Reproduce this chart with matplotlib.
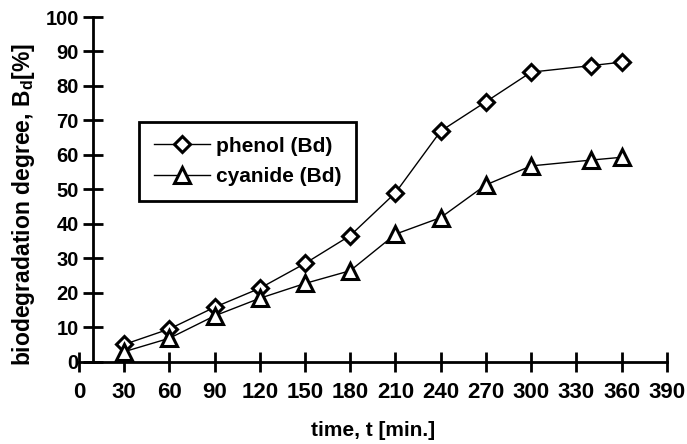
import matplotlib
matplotlib.use("Agg")
import matplotlib.pyplot as plt

plt.rcParams['font.family'] = ['Liberation Sans', 'DejaVu Sans']
plt.rcParams['font.weight'] = 'bold'
plt.rcParams['mathtext.fontset'] = 'custom'
plt.rcParams['mathtext.bf'] = 'Liberation Sans:bold'
plt.rcParams['mathtext.rm'] = 'Liberation Sans:bold'

time_min = [30, 60, 90, 120, 150, 180, 210, 240, 270, 300, 340, 360]
phenol_bd = [5.0, 9.5, 15.8, 21.3, 28.5, 36.6, 49.0, 66.9, 75.4, 84.0, 85.9, 86.9]
cyanide_bd = [2.9, 6.8, 13.3, 18.4, 22.7, 26.4, 37.0, 41.8, 51.3, 56.8, 58.5, 59.3]
x_ticks = [0, 30, 60, 90, 120, 150, 180, 210, 240, 270, 300, 330, 360, 390]
y_ticks = [0, 10, 20, 30, 40, 50, 60, 70, 80, 90, 100]

fig = plt.figure(figsize=(6.87, 4.44), dpi=100)
ax = fig.add_axes([0.115, 0.1854, 0.8555, 0.7763])

ax.plot(time_min, phenol_bd, color='black', lw=1.0, marker='D', ms=8,
        mfc='white', mec='black', mew=2.2, label='phenol (Bd)', zorder=3)
ax.plot(time_min, cyanide_bd, color='black', lw=1.0, marker='^', ms=11,
        mfc='white', mec='black', mew=2.2, label='cyanide (Bd)', zorder=3)

ax.set_xlim(0, 390)
ax.set_ylim(0, 100)
ax.set_xticks(x_ticks)
ax.set_yticks(y_ticks)

ax.spines['top'].set_visible(False)
ax.spines['right'].set_visible(False)
ax.spines['left'].set_position(('data', 9.5))
ax.spines['bottom'].set_position(('data', 0))
for s in ('left', 'bottom'):
    ax.spines[s].set_linewidth(2.0)
    ax.spines[s].set_color('black')

ax.tick_params(axis='x', direction='inout', length=15, width=2.0,
               labelsize=16, pad=7)
ax.tick_params(axis='y', direction='inout', length=15, width=2.0,
               labelsize=14.5, pad=3)
for lab in ax.get_xticklabels() + ax.get_yticklabels():
    lab.set_fontweight('bold')

ax.set_xlabel('time, t [min.]', fontsize=15, fontweight='bold', va='center')
ax.xaxis.set_label_coords(0.5, -0.201)
ax.set_ylabel(r'biodegradation degree, B$_{\mathbf{d}}$[%]', fontsize=16.5,
              fontweight='bold')
ax.yaxis.set_label_coords(-0.0715, 0.455)

leg = ax.legend(loc='upper left', bbox_to_anchor=(0.102, 0.695),
                borderaxespad=0, handlelength=2.7,
                handletextpad=0.3, labelspacing=0.55, borderpad=0.7,
                fancybox=False, framealpha=1, edgecolor='black',
                prop={'weight': 'bold', 'size': 15})
leg.get_frame().set_linewidth(2.0)

fig.savefig('out.png', dpi=100)
